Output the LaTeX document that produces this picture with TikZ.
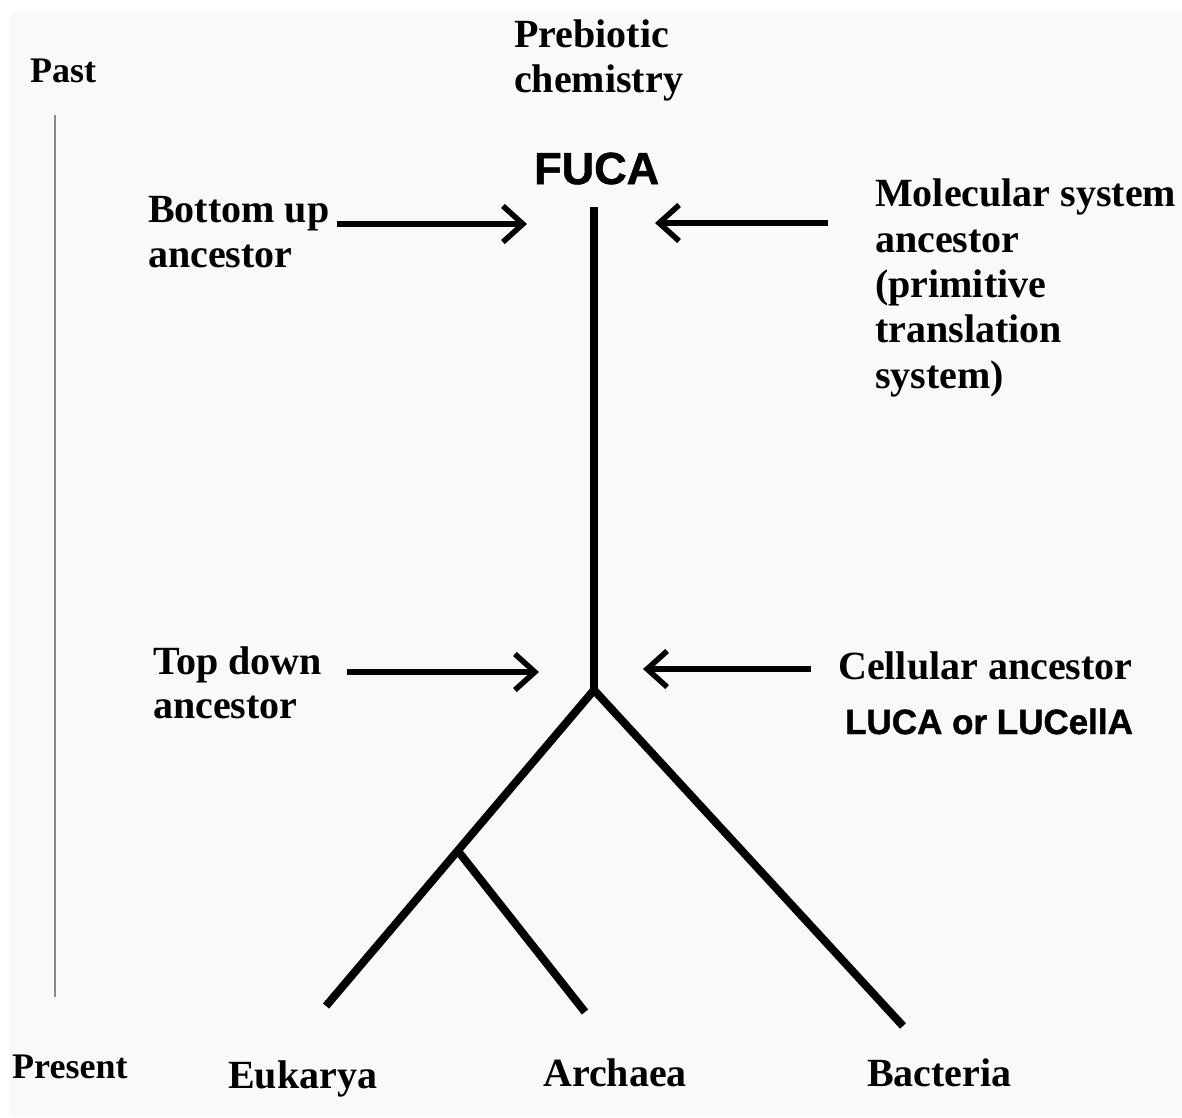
\documentclass[tikz,border=0pt]{standalone}
\usepackage{fontspec}
\setmainfont{Liberation Serif}
\newfontfamily\heavyfont{Liberation Sans Bold}[FakeBold=1.2]
\usetikzlibrary{arrows.meta}
\definecolor{bgpanel}{HTML}{F9F9F9}
\definecolor{timegray}{HTML}{8A8A8A}
\tikzset{
  lbl/.style={anchor=base west, inner sep=0pt, font=\fontsize{40}{45}\selectfont\bfseries},
  smalllbl/.style={anchor=base west, inner sep=0pt, font=\fontsize{36}{40}\selectfont\bfseries},
  heavylbl/.style={anchor=base west, inner sep=0pt},
  branch/.style={line width=8pt, line cap=butt, line join=miter},
  pointer/.style={line width=5.5pt, -{Straight Barb[length=20pt,width=36pt]}},
  timeline/.style={line width=2pt, draw=timegray}
}
\begin{document}
\begin{tikzpicture}[x=1pt,y=-1pt]
\useasboundingbox (0,0) rectangle (1182,1117);
\fill[white] (0,0) rectangle (1182,1117);
\fill[bgpanel] (10,13) rectangle (1182,1117);

% tree coordinates
\coordinate (top) at (594,207);
\coordinate (root) at (594,690);
\coordinate (eu) at (326,1006);
\coordinate (sub) at (458,851);
\coordinate (ar) at (585,1012);
\coordinate (ba) at (903,1026);

\draw[branch] (top) -- (root);
\draw[branch] (root) -- (eu);
\draw[branch] (root) -- (ba);
\draw[branch] (sub) -- (ar);

% timeline
\coordinate (tpast) at (55,115);
\coordinate (tpres) at (55,997);
\draw[timeline] (tpast) -- (tpres);

% arrow coordinates
\coordinate (bu0) at (337,224);
\coordinate (bu1) at (527,224);
\coordinate (ms0) at (828,223);
\coordinate (ms1) at (655,223);
\coordinate (td0) at (347,672);
\coordinate (td1) at (539,672);
\coordinate (ca0) at (811,669);
\coordinate (ca1) at (643,669);
\draw[pointer] (bu0) -- (bu1);
\draw[pointer] (ms0) -- (ms1);
\draw[pointer] (td0) -- (td1);
\draw[pointer] (ca0) -- (ca1);

% labels
\node[smalllbl] (past) at (30,82) {Past};
\node[smalllbl] (present) at (12,1078) {Present};
\node[lbl] (pre1) at (514,47) {Prebiotic};
\node[lbl] (pre2) at (514,92) {chemistry};
\node[heavylbl, font=\fontsize{45}{50}\selectfont\heavyfont] (fuca) at (534,184) {FUCA};
\node[lbl] (bot1) at (148,222) {Bottom up};
\node[lbl] (bot2) at (148,267) {ancestor};
\node[lbl] (mol1) at (875,206) {Molecular system};
\node[lbl] (mol2) at (875,252) {ancestor};
\node[lbl] (mol3) at (875,297) {(primitive};
\node[lbl] (mol4) at (875,342) {translation};
\node[lbl] (mol5) at (875,388) {system)};
\node[lbl] (top1) at (153,674) {Top down};
\node[lbl] (top2) at (153,718) {ancestor};
\node[lbl] (cell) at (838,679) {Cellular ancestor};
\node[heavylbl, font=\fontsize{35}{40}\selectfont\heavyfont] (luca) at (845,734) {LUCA or LUCellA};
\node[lbl] (euk) at (228,1088) {Eukarya};
\node[lbl] (arc) at (543,1086) {Archaea};
\node[lbl] (bac) at (867,1086) {Bacteria};
\end{tikzpicture}
\end{document}
